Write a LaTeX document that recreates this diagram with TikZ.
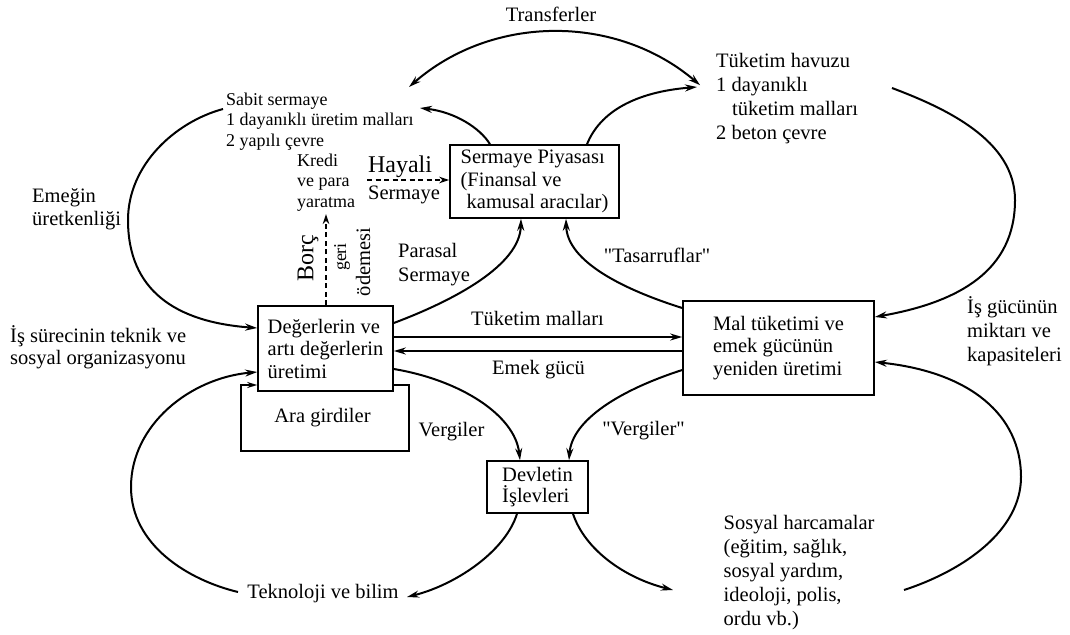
\documentclass[tikz,border=0pt]{standalone}
\usepackage{fontspec}
\setmainfont{Liberation Serif}
\usetikzlibrary{arrows.meta}
\newcommand\fsmain{\fontsize{20.5pt}{22.5pt}\selectfont}
\newcommand\fswide{\fontsize{20.5pt}{24pt}\selectfont}
\newcommand\fssmall{\fontsize{18pt}{20.5pt}\selectfont}
\begin{document}
\begin{tikzpicture}[x=1pt,y=-1pt,
  box/.style={draw, line width=1.6pt, align=left, inner sep=0pt, font=\fsmain},
  lbl/.style={inner sep=0pt, align=left, font=\fsmain},
  arr/.style={line width=2pt, -{Stealth[length=12pt,width=7pt]}},
  arrboth/.style={line width=2pt, {Stealth[length=12pt,width=7pt]}-{Stealth[length=12pt,width=7pt]}},
  dsh/.style={line width=2pt, dash pattern=on 5pt off 3.5pt, -{Stealth[length=10pt,width=6.5pt]}},
  loopline/.style={line width=1.6pt, -{Stealth[length=10pt,width=6pt]}},
]
\useasboundingbox (0,0) rectangle (1070,634);

% boxes
\node[box, minimum width=169pt, minimum height=73pt] (sp) at (534.5,181.5)
  {Sermaye Piyasası\\(Finansal ve\\\hspace*{6pt}kamusal aracılar)};
\node[box, minimum width=135pt, minimum height=85pt] (dg) at (325.5,348.5)
  {Değerlerin ve\\artı değerlerin\\üretimi};
\node[box, minimum width=191pt, minimum height=94pt] (mt) at (778.5,348)
  {Mal tüketimi ve\\emek gücünün\\yeniden üretimi};
\node[box, minimum width=101pt, minimum height=52pt, font=\fontsize{20.5pt}{21pt}\selectfont] (dv) at (537.5,487)
  {Devletin\\İşlevleri};

% labels
\node[lbl] (transfer) at (551,14) {Transferler};
\node[lbl, anchor=west, font=\fswide] (havuz) at (716,99)
  {Tüketim havuzu\\1 dayanıklı\\\hspace*{16pt}tüketim malları\\2 beton çevre};
\node[lbl, anchor=west, font=\fssmall] (sabit) at (226,121.5)
  {Sabit sermaye\\1 dayanıklı üretim malları\\2 yapılı çevre};
\node[lbl, anchor=west, font=\fssmall] (kredi) at (297,182.5) {Kredi\\ve para\\yaratma};
\node[lbl, font=\fontsize{24pt}{26pt}\selectfont] (hayali) at (400,167) {Hayali};
\node[lbl] (hsermaye) at (404,195) {Sermaye};
\node[lbl, anchor=west] (emegin) at (32,209) {Emeğin\\üretkenliği};
\node[lbl, anchor=west] (issurec) at (10,347) {İş sürecinin teknik ve\\sosyal organizasyonu};
\node[lbl, anchor=west, font=\fswide] (parasal) at (398,265) {Parasal\\Sermaye};
\node[lbl] (tasarruf) at (657,255) {\textquotedbl Tasarruflar\textquotedbl};
\node[lbl] (tmlab) at (537.5,318) {Tüketim malları};
\node[lbl] (emlab) at (538.5,370) {Emek gücü};
\node[lbl] (verg1) at (451.5,432) {Vergiler};
\node[lbl] (verg2) at (643.5,431) {\textquotedbl Vergiler\textquotedbl};
\node[lbl] (ara) at (322.5,418) {Ara girdiler};
\node[lbl, anchor=west, font=\fswide] (isgucu) at (967,331) {İş gücünün\\miktarı ve\\kapasiteleri};
\node[lbl] (tekno) at (323,594) {Teknoloji ve bilim};
\node[lbl, anchor=west, font=\fswide] (sosyal) at (723.5,573)
  {Sosyal harcamalar\\(eğitim, sağlık,\\sosyal yardım,\\ideoloji, polis,\\ordu vb.)};
\node[lbl, rotate=90, font=\fontsize{24pt}{26pt}\selectfont] (borc) at (308,258) {Borç};
\node[lbl, rotate=90, font=\fontsize{18pt}{20pt}\selectfont] (geri) at (342,257) {geri};
\node[lbl, rotate=90] (odeme) at (363,262) {ödemesi};

% free ends
\coordinate (la) at (223,109);
\coordinate (ra) at (892,88);
\coordinate (bla) at (238,592);
\coordinate (bra) at (904,590);
\coordinate (ta) at (409,87);
\coordinate (sabitend) at (420,108);
\coordinate (havuzend) at (697,87);
\coordinate (teknoend) at (407,597);
\coordinate (sosyalend) at (673,590);
\coordinate (krediend) at (367,180);

% big outer loops
\draw[arr] (la) .. controls (175,122) and (128,165) .. (128,220)
  .. controls (128,290) and (175,322) .. (dg.west |- 0,328);
\draw[arr] (ra) .. controls (945,108) and (1015,140) .. (1015,200)
  .. controls (1015,270) and (960,302) .. (mt.east |- 0,317);
\draw[arr] (bla) .. controls (188,580) and (131,545) .. (131,487)
  .. controls (131,425) and (190,378) .. (dg.west |- 0,372);
\draw[arr] (bra) .. controls (965,570) and (1021,530) .. (1021,477)
  .. controls (1021,415) and (970,372) .. (mt.east |- 0,362);

% transfers
\draw[arrboth] (ta) arc[start angle=-131.1, end angle=-49.6, radius=223];

% capital market outflows
\draw[arr] (sp.north -| 490,0) .. controls (480,128) and (455,112) .. (sabitend);
\draw[arr] (sp.north -| 587,0) .. controls (600,112) and (635,92) .. (havuzend);

% inflows to capital market
\draw[arr] (dg.east |- 0,323) .. controls (455,300) and (520,265) .. (sp.south -| 521,0);
\draw[arr] (mt.west |- 0,308) .. controls (625,290) and (567,262) .. (sp.south -| 566,0);

% horizontal flows
\draw[arr] (dg.east |- 0,337) -- (mt.west |- 0,337);
\draw[arr] (mt.west |- 0,351) -- (dg.east |- 0,351);

% taxes
\draw[arr] (dg.east |- 0,369) .. controls (460,380) and (515,415) .. (dv.north -| 520,0);
\draw[arr] (mt.west |- 0,370) .. controls (620,390) and (572,420) .. (dv.north -| 569,0);

% state outflows
\draw[arr] (dv.south -| 517,0) .. controls (505,552) and (455,585) .. (teknoend);
\draw[arr] (dv.south -| 573,0) .. controls (585,550) and (625,578) .. (sosyalend);

% dashed
\draw[dsh] (dg.north -| 326,0) -- (326,214);
\draw[dsh] (krediend) -- (sp.west |- 0,180);

% intermediate inputs loop
\draw[loopline] (dg.east |- 0,385) -| (409,451) -| (241,385) -- (dg.west |- 0,385);
\end{tikzpicture}
\end{document}
